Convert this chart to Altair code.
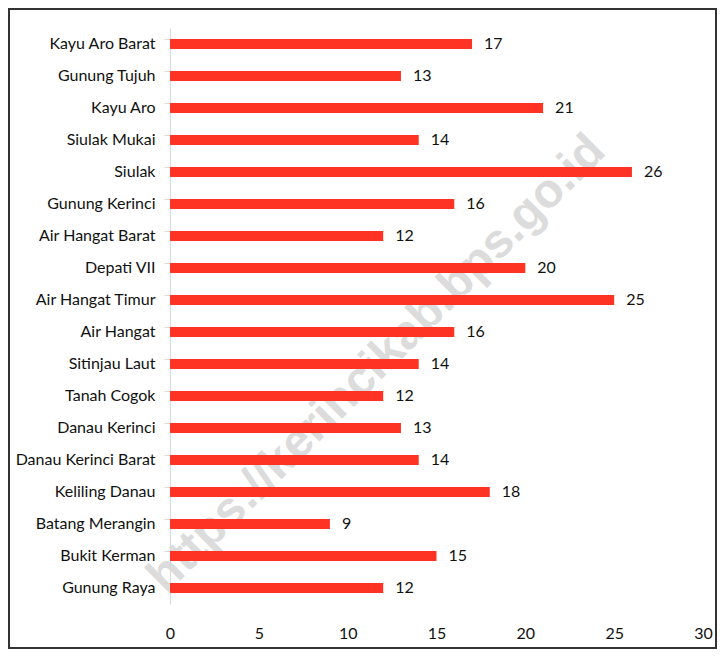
import altair as alt
import pandas as pd

kecamatan = ["Kayu Aro Barat", "Gunung Tujuh", "Kayu Aro", "Siulak Mukai", "Siulak",
             "Gunung Kerinci", "Air Hangat Barat", "Depati VII", "Air Hangat Timur",
             "Air Hangat", "Sitinjau Laut", "Tanah Cogok", "Danau Kerinci",
             "Danau Kerinci Barat", "Keliling Danau", "Batang Merangin", "Bukit Kerman",
             "Gunung Raya"]
nilai = [17, 13, 21, 14, 26, 16, 12, 20, 25, 16, 14, 12, 13, 14, 18, 9, 15, 12]
x_ticks = [0, 5, 10, 15, 20, 25, 30]
watermark = ["https://kerincikab.bps.go.id"]

df = pd.DataFrame({"kecamatan": kecamatan, "nilai": nilai})
FONT = "Lato, DejaVu Sans Condensed, sans-serif"

W, H = 533, 576

frame = alt.Chart(pd.DataFrame({"f": [0]})).mark_rect(
    fill=None, stroke="#333333", strokeWidth=2
).encode(x=alt.value(-161), x2=alt.value(W + 13), y=alt.value(-19), y2=alt.value(H + 44))

wm = alt.Chart(pd.DataFrame({"t": watermark})).mark_text(
    angle=315, font="Liberation Sans, Arial, sans-serif", fontWeight="bold",
    fontSize=48, color="#d6d6d6", opacity=0.85
).encode(x=alt.value(207), y=alt.value(336), text="t:N")

base = alt.Chart(df).encode(
    y=alt.Y("kecamatan:N", sort=None, title=None,
            scale=alt.Scale(paddingInner=0.69, paddingOuter=0.345),
            axis=alt.Axis(labelFont=FONT, labelFontSize=16, labelColor="#111111",
                          labelPadding=9, domainColor="#d9d9d9", tickColor="#d9d9d9",
                          tickSize=6, bandPosition=0, labelLimit=200)),
    x=alt.X("nilai:Q", title=None,
            scale=alt.Scale(domain=[0, 30], nice=False),
            axis=alt.Axis(values=x_ticks, grid=False, domain=False, ticks=False,
                          labelFlush=False,
                          labelFont=FONT, labelFontSize=16, labelColor="#111111",
                          labelPadding=21)),
)

bars = base.mark_bar(color="#FF3324")
labels = base.mark_text(align="left", dx=12, font=FONT, fontSize=16, color="#111111").encode(
    text="nilai:Q")

chart = alt.layer(frame, wm, bars, labels).properties(
    width=W, height=H,
    background="white",
    autosize=alt.AutoSizeParams(type="none"),
    padding={"left": 162, "top": 20, "right": 14, "bottom": 45},
).configure_view(stroke=None)

chart.save("out.html", embed_options={"renderer": "svg", "actions": False})
